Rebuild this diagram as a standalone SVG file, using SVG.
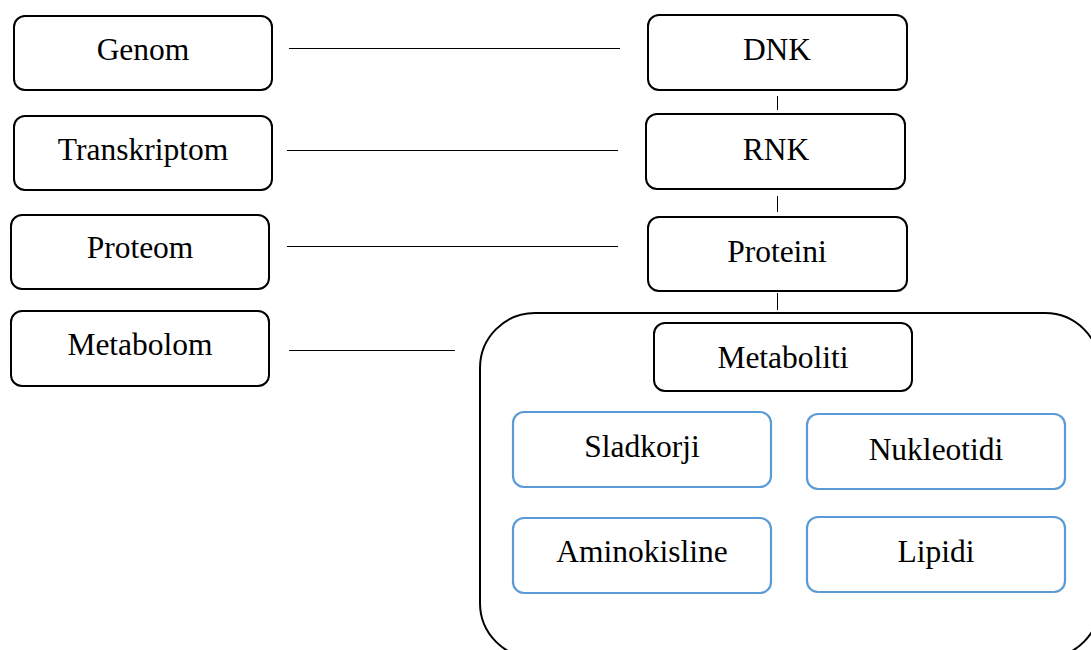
<svg xmlns="http://www.w3.org/2000/svg" width="1091" height="650" viewBox="0 0 1091 650">
<style>
.b{fill:#fff;stroke:#000;stroke-width:2}
.c{fill:#fff;stroke:#5B9BD5;stroke-width:2.2}
.l{stroke:#000;stroke-width:1;fill:none}
text{font-family:'Liberation Serif','Times New Roman',serif;font-size:31.5px;fill:#000;text-anchor:middle}
</style>
<rect width="1091" height="650" fill="#fff"/>
<g id="connectors">
<line class="l" x1="289" y1="48.5" x2="620" y2="48.5"/>
<line class="l" x1="287" y1="150.5" x2="618" y2="150.5"/>
<line class="l" x1="287" y1="246.5" x2="618" y2="246.5"/>
<line class="l" x1="289" y1="350.5" x2="455" y2="350.5"/>
<line class="l" x1="777.5" y1="96" x2="777.5" y2="110"/>
<line class="l" x1="777.5" y1="196" x2="777.5" y2="212"/>
<line class="l" x1="777.5" y1="293" x2="777.5" y2="310"/>
</g>
<g id="genom"><rect class="b" x="14" y="16" width="258" height="74" rx="11"/><text x="143" y="60">Genom</text></g>
<g id="transkriptom"><rect class="b" x="14" y="116" width="258" height="74" rx="11"/><text x="143" y="160">Transkriptom</text></g>
<g id="proteom"><rect class="b" x="11" y="215" width="258" height="74" rx="11"/><text x="140" y="258">Proteom</text></g>
<g id="metabolom"><rect class="b" x="11" y="311" width="258" height="75" rx="11"/><text x="140" y="355">Metabolom</text></g>
<g id="dnk"><rect class="b" x="648" y="15" width="259" height="75" rx="11"/><text x="777" y="60">DNK</text></g>
<g id="rnk"><rect class="b" x="646" y="114" width="259" height="75" rx="11"/><text x="776" y="160">RNK</text></g>
<g id="proteini"><rect class="b" x="648" y="217" width="259" height="74" rx="11"/><text x="777" y="262">Proteini</text></g>
<g id="container"><rect class="b" x="480" y="313" width="620" height="345" rx="55"/></g>
<g id="metaboliti"><rect class="b" x="654" y="323" width="258" height="68" rx="11"/><text x="783" y="368">Metaboliti</text></g>
<g id="sladkorji"><rect class="c" x="513" y="412" width="258" height="75" rx="11"/><text x="642" y="457">Sladkorji</text></g>
<g id="nukleotidi"><rect class="c" x="807" y="414" width="258" height="75" rx="11"/><text x="936" y="460">Nukleotidi</text></g>
<g id="aminokisline"><rect class="c" x="513" y="518" width="258" height="75" rx="11"/><text x="642" y="562">Aminokisline</text></g>
<g id="lipidi"><rect class="c" x="807" y="517" width="258" height="75" rx="11"/><text x="936" y="562">Lipidi</text></g>
</svg>
